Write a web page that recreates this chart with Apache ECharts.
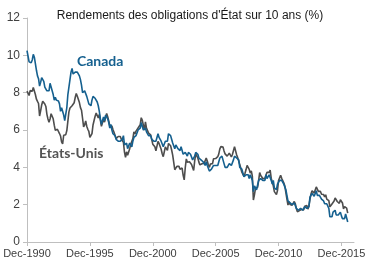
<!DOCTYPE html>
<html><head><meta charset="utf-8">
<script src="https://cdn.jsdelivr.net/npm/echarts@6/dist/echarts.min.js"></script>
<style>html,body{margin:0;padding:0;background:#fff}#c{width:380px;height:269px}</style>
</head><body><div id="c"></div>
<script>
// Monthly data, starting Dec-1990 (index 0)
const startYear = 1990;
const tickLabels = ['Dec-1990','Dec-1995','Dec-2000','Dec-2005','Dec-2010','Dec-2015'];
const canada = [
 10.25,
 9.95,9.65,9.7,9.6,9.75,10.05,9.9,9.55,9.2,8.9,8.75,8.35,
 8.55,8.8,8.85,8.6,8.3,8.4,8.1,8.0,8.1,8.5,8.3,8.1,
 7.9,7.6,7.75,7.6,7.7,7.55,7.4,7.0,7.2,7.3,6.8,6.5,
 6.4,7.2,7.9,8.3,8.7,9.1,9.3,9.0,9.0,9.1,9.2,9.1,
 9.2,8.9,8.7,8.4,8.0,7.9,8.1,8.0,7.8,7.7,7.4,7.3,
 7.3,7.6,7.8,7.7,7.7,7.6,7.5,7.3,7.0,6.6,6.3,6.4,
 6.7,6.5,6.8,6.9,6.6,6.4,6.1,6.3,6.0,5.8,5.9,5.7,
 5.5,5.5,5.4,5.5,5.4,5.4,5.5,5.7,5.2,5.2,5.3,5.0,
 5.0,5.3,5.3,5.1,5.4,5.6,5.7,5.7,5.6,6.0,6.0,6.1,
 6.4,6.2,6.0,6.0,6.1,5.9,5.8,5.7,5.6,5.7,5.5,5.4,
 5.4,5.3,5.4,5.6,5.8,5.6,5.6,5.4,5.4,5.1,5.0,5.4,
 5.5,5.4,5.8,5.7,5.7,5.5,5.3,5.2,5.0,5.2,5.1,5.0,
 5.0,4.9,5.1,5.1,4.7,4.6,4.8,4.9,4.6,4.8,4.8,4.7,
 4.6,4.4,4.3,4.6,4.8,4.8,4.7,4.5,4.5,4.4,4.4,4.3,
 4.2,4.1,4.3,4.1,4.0,3.8,3.9,3.9,3.9,4.1,4.0,4.1,
 4.1,4.1,4.3,4.5,4.5,4.6,4.4,4.2,4.0,4.0,4.0,4.1,
 4.2,4.1,4.1,4.2,4.4,4.6,4.6,4.5,4.4,4.4,4.0,4.0,
 3.9,3.8,3.5,3.6,3.6,3.7,3.6,3.4,3.6,3.7,3.3,2.7,
 3.0,3.0,2.8,2.9,3.3,3.4,3.4,3.4,3.3,3.4,3.3,3.6,
 3.4,3.4,3.6,3.6,3.3,3.1,3.3,2.9,2.8,2.8,3.1,3.2,
 3.3,3.3,3.3,3.2,3.1,3.1,2.8,2.5,2.2,2.3,2.1,2.0,
 2.0,2.1,2.1,2.0,1.8,1.75,1.7,1.8,1.8,1.8,1.7,1.8,
 1.9,1.8,1.8,1.7,1.9,2.4,2.5,2.6,2.6,2.45,2.6,2.75,
 2.5,2.45,2.5,2.4,2.3,2.3,2.2,2.05,2.15,2.05,1.95,1.8,
 1.35,1.35,1.35,1.6,1.6,1.7,1.45,1.5,1.45,1.55,1.6,1.4,
 1.25,1.2,1.25,1.5,1.4,1.07
];
const etatsUnis = [
 8.08,
 8.09,7.85,8.11,8.04,8.07,8.28,8.27,7.90,7.65,7.53,7.42,6.75,
 7.03,7.34,7.54,7.48,7.39,7.26,6.84,6.59,6.42,6.59,6.87,6.77,
 6.60,6.26,5.98,5.97,6.04,5.96,5.81,5.68,5.36,5.25,5.72,5.77,
 5.75,5.97,6.48,6.97,7.18,7.10,7.30,7.24,7.46,7.74,7.96,7.81,
 7.78,7.47,7.20,7.06,6.63,6.17,6.28,6.49,6.20,6.04,5.93,5.60,
 5.65,5.81,6.27,6.51,6.74,6.91,6.87,6.64,6.83,6.53,6.20,6.30,
 6.58,6.42,6.69,6.89,6.71,6.49,6.22,6.30,6.21,6.03,5.88,5.81,
 5.54,5.57,5.65,5.64,5.65,5.50,5.46,5.34,4.81,4.53,4.83,4.65,
 4.72,5.00,5.23,5.18,5.54,5.90,5.79,5.94,5.92,6.11,6.03,6.28,
 6.66,6.52,6.26,5.99,6.44,6.10,6.05,5.83,5.80,5.74,5.72,5.24,
 5.16,5.10,4.89,5.14,5.39,5.28,5.24,4.97,4.73,4.57,4.65,5.09,
 5.04,4.91,5.28,5.21,5.16,4.93,4.65,4.26,3.87,3.94,4.05,4.03,
 4.05,3.90,3.81,3.96,3.57,3.33,3.98,4.45,4.27,4.29,4.30,4.27,
 4.15,4.08,3.83,4.35,4.72,4.73,4.50,4.28,4.13,4.10,4.19,4.23,
 4.22,4.17,4.50,4.34,4.14,4.00,4.18,4.26,4.20,4.46,4.54,4.47,
 4.42,4.57,4.72,4.99,5.11,5.11,5.09,4.88,4.72,4.73,4.60,4.56,
 4.76,4.72,4.56,4.69,4.75,5.10,5.00,4.67,4.52,4.53,4.15,4.10,
 3.74,3.74,3.51,3.68,3.88,4.10,4.01,3.89,3.69,3.81,3.53,2.25,
 2.52,2.87,2.82,2.93,3.29,3.72,3.56,3.59,3.40,3.39,3.40,3.59,
 3.73,3.69,3.73,3.85,3.42,3.20,3.01,2.70,2.65,2.54,2.76,3.29,
 3.39,3.58,3.41,3.46,3.17,3.00,3.00,2.30,1.98,2.15,2.01,1.98,
 1.97,1.97,2.17,2.05,1.80,1.62,1.53,1.68,1.72,1.75,1.65,1.72,
 1.91,1.98,1.96,1.76,1.93,2.30,2.58,2.74,2.81,2.62,2.72,2.95,
 2.86,2.71,2.72,2.71,2.56,2.60,2.54,2.42,2.53,2.30,2.33,2.21,
 1.88,1.98,2.04,1.94,2.20,2.36,2.32,2.17,2.17,2.07,2.26,2.24,
 2.09,1.78,1.89,1.81,1.81,1.55
];
const yTicks = [0,2,4,6,8,10,12];

const toPairs = arr => arr.map((v,i)=>[i,v]);
const tickVals = tickLabels.map((_,i)=>i*60);
const labelMap = {}; tickVals.forEach((v,i)=>labelMap[v]=tickLabels[i]);

const chart = echarts.init(document.getElementById('c'), null, {renderer:'canvas'});
const axisFont = {fontFamily:'Liberation Sans, Arial, sans-serif', fontSize:11, color:'#404040'};
chart.setOption({
  animation:false,
  title:{text:"Rendements des obligations d'État sur 10 ans (%)", left:'center', top:5,
    textStyle:{fontFamily:'Liberation Sans, Arial, sans-serif', fontSize:12, fontWeight:'normal', color:'#1a1a1a'}},
  grid:{left:27, right:26, top:18, bottom:27},
  xAxis:{type:'value', min:0, max:312, interval:60,
    axisLine:{show:true, lineStyle:{color:'#bfbfbf', width:1}},
    axisTick:{show:true, length:4, lineStyle:{color:'#bfbfbf'}, customValues:tickVals},
    axisLabel:{...axisFont, margin:6, customValues:tickVals, formatter:v=>labelMap[v]||''},
    splitLine:{show:false}},
  yAxis:{type:'value', min:0, max:12, interval:2,
    axisLine:{show:true, lineStyle:{color:'#bfbfbf', width:1}},
    axisTick:{show:true, length:4, lineStyle:{color:'#bfbfbf'}},
    axisLabel:{...axisFont, fontSize:12, margin:7},
    splitLine:{show:false}},
  series:[
    {name:'États-Unis', type:'line', data:toPairs(etatsUnis), showSymbol:false,
      lineStyle:{color:'#4d4d4d', width:1.6}, itemStyle:{color:'#4d4d4d'}},
    {name:'Canada', type:'line', data:toPairs(canada), showSymbol:false,
      lineStyle:{color:'#15608f', width:1.6}, itemStyle:{color:'#15608f'}}
  ],
  graphic:[
    {type:'text', left:77, top:54, style:{text:'Canada', fontFamily:'Lato, sans-serif', fontWeight:'bold', fontSize:14, fill:'#15608f'}},
    {type:'text', left:39, top:146, style:{text:'États-Unis', fontFamily:'Lato, sans-serif', fontWeight:'bold', fontSize:14, fill:'#555555'}}
  ]
});
</script></body></html>
